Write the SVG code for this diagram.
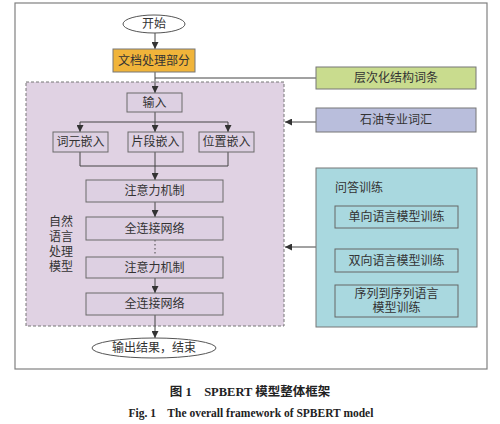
<svg xmlns="http://www.w3.org/2000/svg" width="500" height="424" viewBox="0 0 500 424">
<defs>
<style>
.t{font-family:"Liberation Serif","Noto Sans CJK SC",serif;font-size:12px;fill:#333;text-anchor:middle;dominant-baseline:central}
.bx{fill:#ddd0e2;stroke:#6a6a6a;stroke-width:1}
.ln{fill:none;stroke:#444;stroke-width:1}
.cap{font-family:"Liberation Serif","Noto Sans CJK SC",serif;font-size:12.5px;font-weight:bold;fill:#222;text-anchor:middle;white-space:pre}
</style>
<marker id="ar" viewBox="0 0 8 8" refX="8" refY="4" markerWidth="7" markerHeight="7" orient="auto" markerUnits="userSpaceOnUse">
<path d="M0,0 L8,4 L0,8 Z" fill="#333"/>
</marker>
</defs>
<rect x="0" y="0" width="500" height="424" fill="#fff"/>
<rect x="15" y="3" width="472" height="366" fill="#fff" stroke="#808080" stroke-width="1.2"/>
<g id="nlp-region">
<rect x="26" y="82" width="258" height="244" fill="#e0d2e3" stroke="#777" stroke-width="1" stroke-dasharray="3,2"/>
<text class="t" x="61" y="222">自然</text>
<text class="t" x="61" y="237">语言</text>
<text class="t" x="61" y="252">处理</text>
<text class="t" x="61" y="267">模型</text>
</g>
<g id="connectors">
<line class="ln" x1="155" y1="33" x2="155" y2="49" marker-end="url(#ar)"/>
<line class="ln" x1="155" y1="72" x2="155" y2="93" marker-end="url(#ar)"/>
<line class="ln" x1="155" y1="78" x2="316" y2="78" stroke="#888"/>
<line class="ln" x1="155" y1="112" x2="155" y2="122"/>
<line class="ln" x1="80" y1="122" x2="228" y2="122"/>
<line class="ln" x1="80" y1="122" x2="80" y2="132" marker-end="url(#ar)"/>
<line class="ln" x1="155" y1="122" x2="155" y2="132" marker-end="url(#ar)"/>
<line class="ln" x1="228" y1="122" x2="228" y2="132" marker-end="url(#ar)"/>
<polyline class="ln" points="80,152 80,166 228,166 228,152"/>
<line class="ln" x1="155" y1="152" x2="155" y2="180" marker-end="url(#ar)"/>
<line class="ln" x1="155" y1="202" x2="155" y2="217" marker-end="url(#ar)"/>
<line class="ln" x1="155" y1="240" x2="155" y2="256" stroke-dasharray="1.5,2.5"/>
<line class="ln" x1="155" y1="278" x2="155" y2="293" marker-end="url(#ar)"/>
<line class="ln" x1="155" y1="315" x2="155" y2="338" marker-end="url(#ar)"/>
<line class="ln" x1="316" y1="122" x2="285" y2="122" marker-end="url(#ar)"/>
<line class="ln" x1="316" y1="247" x2="285" y2="247" marker-end="url(#ar)"/>
</g>
<g id="start">
<ellipse cx="154" cy="24" rx="31" ry="9" fill="#fff" stroke="#555"/>
<text class="t" x="154" y="24">开始</text>
</g>
<g id="doc">
<rect x="113" y="49" width="82" height="23" fill="#f0b43a" stroke="#777"/>
<text class="t" x="154" y="60.5">文档处理部分</text>
</g>
<g id="input">
<rect class="bx" x="127" y="93" width="55" height="19"/>
<text class="t" x="154.5" y="102.5">输入</text>
</g>
<g id="emb1">
<rect class="bx" x="53" y="132" width="55" height="20"/>
<text class="t" x="80.5" y="142">词元嵌入</text>
</g>
<g id="emb2">
<rect class="bx" x="128" y="132" width="55" height="20"/>
<text class="t" x="155.5" y="142">片段嵌入</text>
</g>
<g id="emb3">
<rect class="bx" x="199" y="132" width="55" height="20"/>
<text class="t" x="226.5" y="142">位置嵌入</text>
</g>
<g id="att1">
<rect class="bx" x="86" y="180" width="137" height="22"/>
<text class="t" x="154.5" y="191">注意力机制</text>
</g>
<g id="fc1">
<rect class="bx" x="86" y="217" width="137" height="23"/>
<text class="t" x="154.5" y="228.5">全连接网络</text>
</g>
<g id="att2">
<rect class="bx" x="86" y="257" width="137" height="21"/>
<text class="t" x="154.5" y="267.5">注意力机制</text>
</g>
<g id="fc2">
<rect class="bx" x="86" y="293" width="137" height="22"/>
<text class="t" x="154.5" y="304">全连接网络</text>
</g>
<g id="end">
<ellipse cx="154" cy="348" rx="62" ry="10" fill="#fff" stroke="#555"/>
<text class="t" x="154" y="348">输出结果，结束</text>
</g>
<g id="hier">
<rect x="316" y="67" width="160" height="22" fill="#c9dc8e" stroke="#777"/>
<text class="t" x="396" y="78">层次化结构词条</text>
</g>
<g id="petro">
<rect x="316" y="108" width="160" height="24" fill="#b9bedc" stroke="#777"/>
<text class="t" x="396" y="120">石油专业词汇</text>
</g>
<g id="qa">
<rect x="316" y="168" width="161" height="159" fill="#a9d8df" stroke="#777"/>
<text class="t" x="335" y="188" style="text-anchor:start">问答训练</text>
</g>
<g id="qa1">
<rect x="335" y="206" width="123" height="22" fill="#a9d8df" stroke="#666"/>
<text class="t" x="396.5" y="217">单向语言模型训练</text>
</g>
<g id="qa2">
<rect x="335" y="249" width="123" height="23" fill="#a9d8df" stroke="#666"/>
<text class="t" x="396.5" y="260.5">双向语言模型训练</text>
</g>
<g id="qa3">
<rect x="335" y="285" width="123" height="32" fill="#a9d8df" stroke="#666"/>
<text class="t" x="396.5" y="294">序列到序列语言</text>
<text class="t" x="396.5" y="308">模型训练</text>
</g>
<text class="cap" x="250" y="396" xml:space="preserve">图 1    SPBERT 模型整体框架</text>
<text class="cap" x="251" y="417" style="font-size:11.5px" xml:space="preserve">Fig. 1    The overall framework of SPBERT model</text>
</svg>
